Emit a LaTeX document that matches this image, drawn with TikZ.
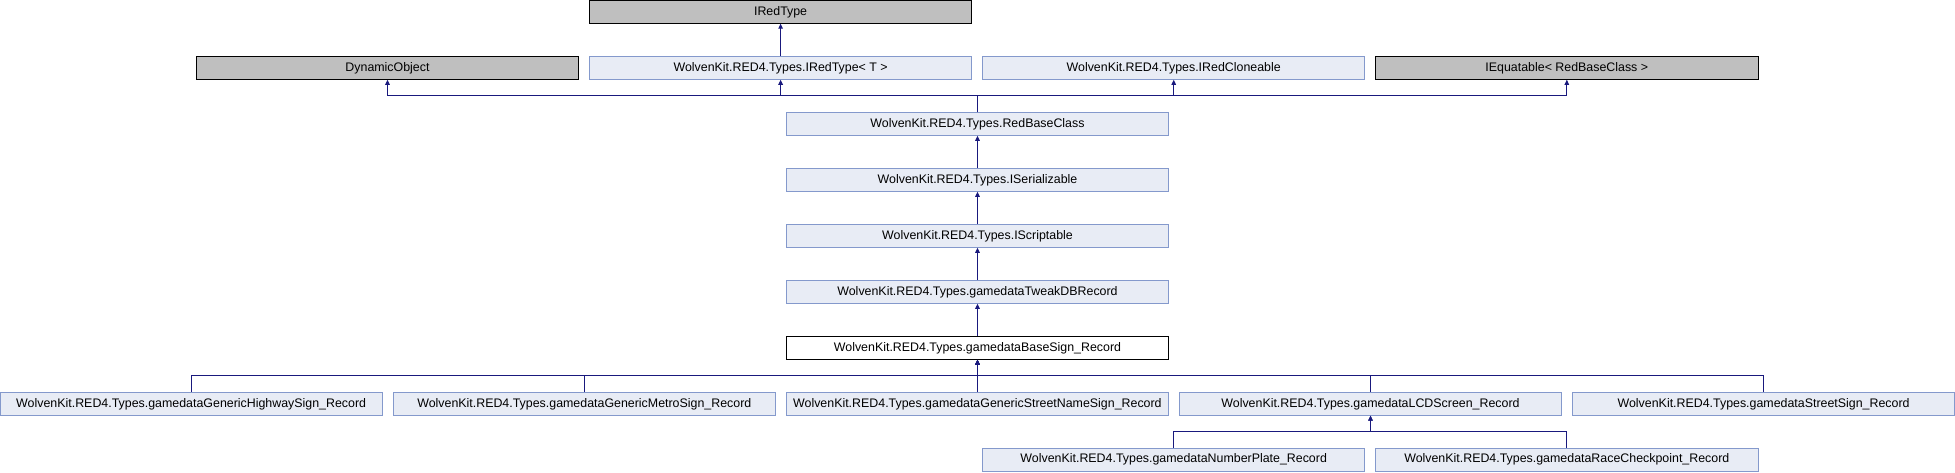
\documentclass[tikz,border=0pt]{standalone}
\usepackage{fontspec}
\setmainfont{Liberation Sans}
\usetikzlibrary{arrows.meta}
\definecolor{boxfill}{RGB}{232,236,245}
\definecolor{boxline}{RGB}{132,153,204}
\definecolor{extfill}{RGB}{191,191,191}
\definecolor{edgecol}{RGB}{25,25,125}
\tikzset{
  cls/.style={draw=boxline, fill=boxfill, line width=1pt, minimum width=382.4pt, minimum height=22.7pt, inner sep=0pt, font=\fontsize{12.4}{14}\selectfont},
  ext/.style={cls, draw=black, fill=extfill},
  cur/.style={cls, draw=black, fill=white},
  inh/.style={draw=edgecol, line width=1pt, -{Triangle[length=5pt,width=4.5pt]}},
}
\begin{document}
\begin{tikzpicture}[x=1pt,y=-1pt]
\useasboundingbox (0,0) rectangle (1955,472);
% row 0
\node[ext] (iredtype) at (780.6,11.8) {IRedType};
% row 1
\node[ext] (dyn) at (387.5,67.9) {DynamicObject};
\node[cls] (iredtypet) at (780.6,67.9) {WolvenKit.RED4.Types.IRedType< T >};
\node[cls] (clone) at (1173.7,67.9) {WolvenKit.RED4.Types.IRedCloneable};
\node[ext] (equat) at (1566.8,67.9) {IEquatable< RedBaseClass >};
% middle column
\node[cls] (rbc) at (977.5,123.9) {WolvenKit.RED4.Types.RedBaseClass};
\node[cls] (iser) at (977.5,179.9) {WolvenKit.RED4.Types.ISerializable};
\node[cls] (iscr) at (977.5,235.9) {WolvenKit.RED4.Types.IScriptable};
\node[cls] (tweak) at (977.5,291.9) {WolvenKit.RED4.Types.gamedataTweakDBRecord};
\node[cur] (base) at (977.5,347.9) {WolvenKit.RED4.Types.gamedataBaseSign\_Record};
% row 7
\node[cls] (hwy) at (191.2,403.8) {WolvenKit.RED4.Types.gamedataGenericHighwaySign\_Record};
\node[cls] (metro) at (584.3,403.8) {WolvenKit.RED4.Types.gamedataGenericMetroSign\_Record};
\node[cls] (street) at (977.4,403.8) {WolvenKit.RED4.Types.gamedataGenericStreetNameSign\_Record};
\node[cls] (lcd) at (1370.5,403.8) {WolvenKit.RED4.Types.gamedataLCDScreen\_Record};
\node[cls] (sign) at (1763.6,403.8) {WolvenKit.RED4.Types.gamedataStreetSign\_Record};
% row 8
\node[cls] (plate) at (1173.7,459.7) {WolvenKit.RED4.Types.gamedataNumberPlate\_Record};
\node[cls] (race) at (1566.8,459.7) {WolvenKit.RED4.Types.gamedataRaceCheckpoint\_Record};
% edges
\draw[inh] (iredtypet.north) -- (iredtype.south);
\draw[inh] (rbc.north) |- ++(0,-16.3) -| (dyn.south);
\draw[inh] (rbc.north) |- ++(0,-16.3) -| (iredtypet.south);
\draw[inh] (rbc.north) |- ++(0,-16.3) -| (clone.south);
\draw[inh] (rbc.north) |- ++(0,-16.3) -| (equat.south);
\draw[inh] (iser.north) -- (rbc.south);
\draw[inh] (iscr.north) -- (iser.south);
\draw[inh] (tweak.north) -- (iscr.south);
\draw[inh] (base.north) -- (tweak.south);
\foreach \c in {hwy,metro,street,lcd,sign}{
  \draw[inh] (\c.north) |- ++(0,-16.3) -| (base.south);
}
\draw[inh] (plate.north) |- ++(0,-16.3) -| (lcd.south);
\draw[inh] (race.north) |- ++(0,-16.3) -| (lcd.south);
\end{tikzpicture}
\end{document}
